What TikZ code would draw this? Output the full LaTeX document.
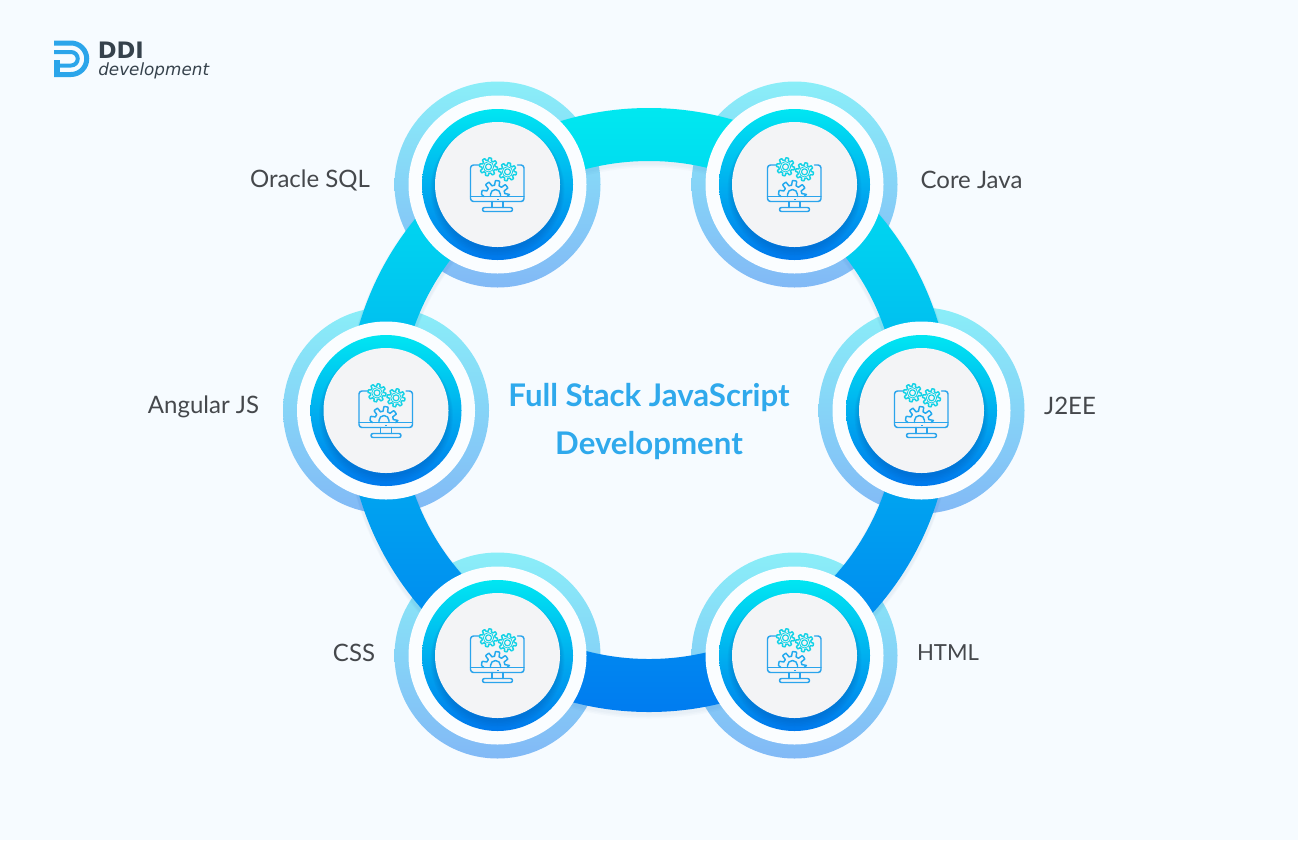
\documentclass[tikz,border=0pt]{standalone}
\usepackage{fontspec}
\setmainfont{Lato}
\newfontfamily\logofont{DejaVu Sans}
\definecolor{pagebg}{HTML}{F6FBFF}
\definecolor{haloT}{HTML}{8AEEF8}
\definecolor{haloB}{HTML}{82B9F6}
\definecolor{ringT}{HTML}{00E8F0}
\definecolor{ringB}{HTML}{007CF0}
\definecolor{bandT}{HTML}{00E6F2}
\definecolor{bandB}{HTML}{0078EC}
\definecolor{whiteband}{HTML}{FAFDFF}
\definecolor{discfill}{HTML}{F3F4F6}
\definecolor{labelgrey}{HTML}{45484C}
\definecolor{titleblue}{HTML}{2FA9EC}
\definecolor{logoblue}{HTML}{2BA5EA}
\definecolor{logodark}{HTML}{36424C}
\definecolor{geartop}{HTML}{14D2E6}
\definecolor{gearlow}{HTML}{22A9EE}
\definecolor{screenline}{HTML}{2AA4EC}
\definecolor{shadowblue}{HTML}{003C90}
\tikzset{
  halo/.style={circle,inner sep=0pt,minimum size=154.5pt,top color=haloT,bottom color=haloB},
  whitedisc/.style={circle,inner sep=0pt,minimum size=133.5pt,fill=whiteband},
  bluedisc/.style={circle,inner sep=0pt,minimum size=113.25pt,top color=bandT,bottom color=bandB},
  greydisc/.style={circle,inner sep=0pt,minimum size=93.75pt,fill=discfill},
  lab/.style={text=labelgrey,font=\fontsize{18}{20}\selectfont,inner sep=0pt},
  titletext/.style={text=titleblue,font=\fontsize{23.4}{26}\selectfont\bfseries,inner sep=0pt},
  iconstroke/.style={line width=1.1pt,line join=round,line cap=round},
  deviceicon/.pic={
    % monitor
    \draw[iconstroke,screenline,rounded corners=2.2] (-16,-19.5) -- (-27,-19.5) -- (-27,17) -- (26.5,17) -- (26.5,-19.5) -- (20,-19.5);
    \draw[iconstroke,screenline] (-27,12) -- (26.5,12);
    \fill[screenline] (-1,14) rectangle (1,15.2);
    \draw[iconstroke,screenline] (-5.5,17) -- (-5.5,23) (5.5,17) -- (5.5,23);
    \draw[iconstroke,screenline,rounded corners=1.5] (-15,23) rectangle (15,27);
    % large half gear
    \draw[iconstroke,gearlow] (-13.5,12) -- plot[domain=180:360,samples=91] ([shift={(-2,10)}]\x:{11.6+2.3*max(-1,min(1,3*sin(8*\x+22)))}) -- (9.5,12);
    \draw[iconstroke,gearlow] (-7,12) -- (-7,10) arc[start angle=180,end angle=360,radius=5] -- (3,12);
    % upper gears
    \foreach \gx/\gy in {-9/-17.7,10/-12.7}{
      \fill[discfill] (\gx,\gy) circle[radius=9];
      \draw[iconstroke,geartop] plot[domain=0:360,samples=121] ([shift={(\gx,\gy)}]\x:{7.8+1.2*max(-1,min(1,3*sin(8*\x))) });
      \draw[iconstroke,geartop,line width=0.9pt] (\gx,\gy) circle[radius=3];
      \draw[geartop,line width=0.6pt] (\gx,\gy) circle[radius=5.2];
    }
  }
}
\begin{document}
\begin{tikzpicture}[x=0.75pt,y=-0.75pt]
\useasboundingbox (0,0) rectangle (1298,840);
\fill[pagebg] (0,0) rectangle (1298,840);

% outer halos
\foreach \nm/\cx/\cy in {oracle/497.5/184.5,corejava/794.5/184.5,jee/921.5/410.5,html/794.5/655.5,css/497.5/655.5,angular/386/410.5}{
  \node[halo] (\nm halo) at (\cx,\cy) {};
}

% soft shadow of the ring
\foreach \s in {1.5,3,4.5}{
  \fill[shadowblue,opacity=.018,even odd rule] (649,410+\s) circle[radius=304] (649,410+\s) circle[radius=247];
}
% ring
\begin{scope}[even odd rule]
  \clip (649,410) circle[radius=302] (649,410) circle[radius=249];
  \shade[top color=ringT,bottom color=ringB] (340,108) rectangle (960,712);
\end{scope}

% hubs
\foreach \nm/\cx/\cy in {oracle/497.5/184.5,corejava/794.5/184.5,jee/921.5/410.5,html/794.5/655.5,css/497.5/655.5,angular/386/410.5}{
  \node[whitedisc] (\nm white) at (\cx,\cy) {};
  \node[bluedisc] (\nm band) at (\cx,\cy) {};
  \begin{scope}
    \clip (\cx,\cy) circle[radius=75.5];
    \foreach \r/\dy in {67/5,66/4.5,65/4,64/3.5,63/3}{
      \fill[shadowblue,opacity=.045] (\cx,\cy+\dy) circle[radius=\r];
    }
  \end{scope}
  \node[greydisc] (\nm disc) at (\cx,\cy) {};
  \pic at (\cx,\cy) {deviceicon};
}

% labels
\node[lab] (labOracle) at (310,180) {Oracle SQL};
\node[lab] (labJava) at (971.5,180) {Core Java};
\node[lab] (labAngular) at (203.5,406.5) {Angular JS};
\node[lab] (labJee) at (1070,406) {J2EE};
\node[lab] (labCss) at (354,653) {CSS};
\node[lab,font=\fontsize{16.6}{20}\selectfont] (labHtml) at (948,653) {HTML};

% title
\node[titletext] (titleA) at (649,397.5) {Full Stack JavaScript};
\node[titletext] (titleB) at (649,445.5) {Development};

% logo
\draw[logoblue,line width=3.75pt] (54,43) -- (71,43) arc[start angle=-90,end angle=90,radius=15.75] -- (54,74.5);
\draw[logoblue,line width=3pt] (54,52) -- (71,52) arc[start angle=-90,end angle=90,radius=6.75] -- (58,65.5);
\fill[logoblue] (54,60) rectangle (60,77);
\node[anchor=west,inner sep=0pt,text=logodark,font=\logofont\bfseries\fontsize{17}{20}\selectfont] (logoA) at (97.5,50) {DDI};
\node[anchor=west,inner sep=0pt,text=logodark,font=\logofont\itshape\fontsize{12.6}{15}\selectfont] (logoB) at (98,71) {development};
\end{tikzpicture}
\end{document}
